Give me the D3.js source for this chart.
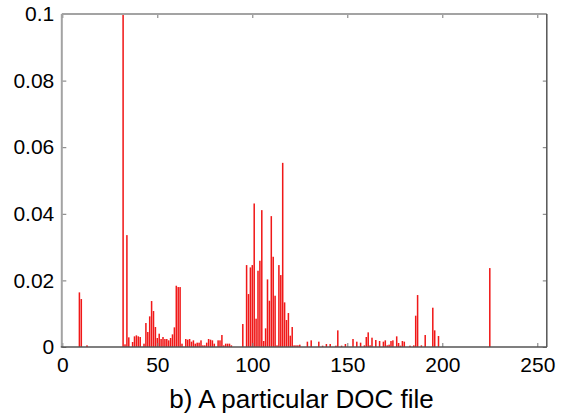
<!DOCTYPE html>
<html>
<head>
<meta charset="utf-8">
<script src="https://cdn.jsdelivr.net/npm/d3@7.8.5/dist/d3.min.js"></script>
<style>
  html, body { margin: 0; padding: 0; background: #fff; }
  svg { display: block; font-family: "Liberation Sans", Arial, sans-serif; }
</style>
</head>
<body>
<svg id="chart" width="562" height="415"></svg>
<script>
// byte value (bin) and its relative frequency, only non-empty bins
const bins = [9, 10, 13, 32, 33, 34, 35, 37, 38, 39, 40, 41, 43, 44, 45, 46, 47, 48, 49, 50,
  51, 52, 53, 54, 55, 56, 57, 58, 59, 60, 61, 62, 63, 65, 66, 67, 68, 69, 70, 71,
  72, 73, 74, 75, 76, 77, 78, 79, 80, 82, 83, 84, 85, 86, 87, 88, 89, 95, 97, 98,
  99, 100, 101, 102, 103, 104, 105, 106, 107, 108, 109, 110, 111, 112, 113, 114, 115, 116, 117, 118,
  119, 120, 121, 122, 123, 124, 125, 129, 131, 135, 137, 139, 141, 144, 145, 147, 149, 153, 155, 157,
  159, 160, 161, 162, 163, 165, 167, 169, 170, 171, 172, 173, 174, 176, 177, 178, 179, 180, 183, 185,
  186, 187, 189, 191, 195, 196, 198, 225];
const freqs = [0.0164, 0.0144, 0.0005, 0.1, 0.0008, 0.0336, 0.0029, 0.0015, 0.0032, 0.0035, 0.0032, 0.003, 0.001, 0.0072, 0.0045, 0.0092, 0.0138, 0.0108, 0.006, 0.0027,
  0.004, 0.0024, 0.003, 0.0024, 0.0024, 0.002, 0.0027, 0.0038, 0.0059, 0.0184, 0.018, 0.018, 0.001, 0.0024, 0.0022, 0.0024, 0.0016, 0.002, 0.001, 0.0013,
  0.0013, 0.002, 0.0005, 0.0005, 0.0013, 0.0024, 0.0022, 0.002, 0.001, 0.002, 0.002, 0.0036, 0.0005, 0.001, 0.001, 0.001, 0.0005, 0.0069, 0.0246, 0.0159,
  0.0239, 0.0246, 0.0431, 0.0085, 0.0229, 0.0259, 0.0411, 0.0018, 0.0056, 0.0203, 0.0139, 0.0393, 0.0271, 0.0154, 0.0005, 0.0246, 0.0216, 0.0553, 0.0134, 0.0081,
  0.0102, 0.0034, 0.006, 0.0005, 0.0005, 0.0005, 0.0007, 0.0016, 0.002, 0.0016, 0.0004, 0.0009, 0.0009, 0.0004, 0.005, 0.0004, 0.0009, 0.0024, 0.0016, 0.0013,
  0.0005, 0.003, 0.0044, 0.0005, 0.0028, 0.0021, 0.0018, 0.0016, 0.002, 0.0005, 0.0007, 0.0018, 0.002, 0.0032, 0.0012, 0.0004, 0.0018, 0.0016, 0.0004, 0.0005,
  0.0094, 0.0156, 0.0005, 0.0036, 0.0118, 0.005, 0.0033, 0.0237];

const xTicks = [0, 50, 100, 150, 200, 250];
const yTicks = [0, 0.02, 0.04, 0.06, 0.08, 0.1];
const caption = 'b) A particular DOC file';

const svg = d3.select('#chart');
const plotL = 62.3, plotR = 546.8, plotT = 14, plotB = 347;

const x = d3.scaleLinear().domain([0, 255]).range([plotL, plotR]);
const y = d3.scaleLinear().domain([0, 0.1]).range([plotB, plotT]);
const barW = 0.8 * (x(1) - x(0));

svg.append('defs').append('clipPath').attr('id', 'plot')
  .append('rect').attr('x', plotL).attr('y', plotT).attr('width', plotR - plotL).attr('height', plotB - plotT);

// bars
svg.append('g').attr('clip-path', 'url(#plot)')
  .selectAll('rect')
  .data(bins.map((b, i) => ({ b, v: freqs[i] })))
  .enter().append('rect')
  .attr('x', d => x(d.b) - barW / 2)
  .attr('y', d => y(d.v))
  .attr('width', barW)
  .attr('height', d => y(0) - y(d.v))
  .attr('fill', '#f01818');

// axes with inward ticks
const fmt = d => d3.format('~g')(d);
const gx = svg.append('g').attr('transform', `translate(0,${plotB})`)
  .call(d3.axisBottom(x).tickValues(xTicks).tickSize(-4).tickPadding(10).tickFormat(fmt));
const gxTop = svg.append('g').attr('transform', `translate(0,${plotT})`)
  .call(d3.axisTop(x).tickValues(xTicks).tickSize(-4).tickFormat(''));
const gy = svg.append('g').attr('transform', `translate(${plotL},0)`)
  .call(d3.axisLeft(y).tickValues(yTicks).tickSize(-4).tickPadding(8).tickFormat(fmt));
const gyRight = svg.append('g').attr('transform', `translate(${plotR},0)`)
  .call(d3.axisRight(y).tickValues(yTicks).tickSize(-4).tickFormat(''));

[gx, gxTop, gy, gyRight].forEach(g => {
  g.selectAll('.domain').remove();
  g.selectAll('.tick line').attr('stroke', '#777').attr('stroke-width', 1);
  g.selectAll('.tick text').attr('fill', '#000').style('font-size', '21px')
    .style('font-family', '"Liberation Sans", Arial, sans-serif');
});

// box: light top/left, darker bottom/right
svg.append('line').attr('x1', plotL - 0.5).attr('x2', plotR).attr('y1', plotT).attr('y2', plotT)
  .attr('stroke', '#a3a3a3').attr('stroke-width', 2);
svg.append('line').attr('x1', plotL - 0.5).attr('x2', plotL - 0.5).attr('y1', plotT).attr('y2', plotB)
  .attr('stroke', '#a3a3a3').attr('stroke-width', 2);
svg.append('line').attr('x1', plotR).attr('x2', plotR).attr('y1', plotT).attr('y2', plotB)
  .attr('stroke', '#555').attr('stroke-width', 1.5);
svg.append('line').attr('x1', plotL - 1.5).attr('x2', plotR).attr('y1', plotB).attr('y2', plotB)
  .attr('stroke', '#555').attr('stroke-width', 1.5);

svg.append('text')
  .attr('x', (plotL + plotR) / 2 - 3)
  .attr('y', 408)
  .attr('text-anchor', 'middle')
  .style('font-size', '26px')
  .attr('fill', '#000')
  .text(caption);
</script>
</body>
</html>
